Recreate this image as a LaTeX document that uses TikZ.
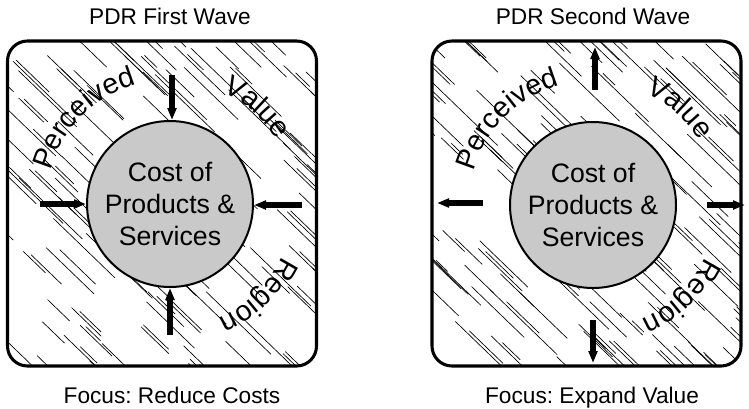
\documentclass[tikz,border=0pt]{standalone}
\usepackage{fontspec}
\setmainfont{Liberation Sans}
\usetikzlibrary{arrows.meta,decorations.text}
\frenchspacing
\definecolor{corefill}{gray}{0.79}
\tikzset{
  frame/.style={line width=2.3pt, rounded corners=15pt},
  core/.style={circle, draw, line width=1.5pt, fill=corefill, minimum size=124.5pt,
    inner sep=0pt, align=center, font=\fontsize{20}{24}\selectfont},
  caption/.style={anchor=base, font=\fontsize{17}{20}\selectfont},
  fat/.style={line width=5.2pt, -{Triangle[length=9pt,width=6.5pt]}},
  hatch/.style={line width=0.5pt},
  arclabel/.style={decorate,decoration={text along path,text align=center,
    text={|\fontsize{21.5}{24}\selectfont|#1}}},
}
\newcommand\mkhatch[2]{%
  \begin{scope}
    \clip[rounded corners=15pt] (#1,#2) rectangle ++(309,-325);
    \foreach \k in {1,...,135}{
      \pgfmathsetmacro\hx{#1-80+rnd*389}
      \pgfmathsetmacro\hy{#2+60-rnd*385}
      \pgfmathsetmacro\hl{30+rnd*65}
      \draw[hatch] (\hx,\hy) -- ++(-44:\hl);
      \pgfmathtruncatemacro\hp{rnd<0.35 ? 1 : 0}
      \pgfmathsetmacro\ho{rnd*20}
      \pgfmathsetmacro\hm{15+rnd*35}
      \ifnum\hp=1
        \draw[hatch] (\hx,\hy) ++(46:3) ++(-44:\ho) -- ++(-44:\hm);
      \fi
    }
  \end{scope}}
\begin{document}
\begin{tikzpicture}[x=0.75pt,y=0.75pt]
\useasboundingbox (0,0) rectangle (749,-408);

% ---------- left panel ----------
\pgfmathsetseed{11}
\mkhatch{7.5}{-41}
\draw[frame] (7.5,-41) rectangle (316.5,-366);
\node[core] (c1) at (170,-204) {Cost of\\Products \&\\Services};

\path[arclabel=Perceived] (c1.center) ++(180:124) arc[start angle=180,end angle=90,radius=93pt];
\path[arclabel=Value] (c1.center) ++(80:124) arc[start angle=80,end angle=16,radius=93pt];
\path[arclabel=Region] (c1.center) ++(-5:124) arc[start angle=-5,end angle=-87,radius=93pt];

\coordinate (a1n) at (172,-75);
\coordinate (a1s) at (170,-335);
\coordinate (a1w) at (40,-204);
\coordinate (a1e) at (302,-205);
\draw[fat] (a1n) -- (a1n |- c1.north);
\draw[fat] (a1s) -- (a1s |- c1.south);
\draw[fat] (a1w) -- (a1w -| c1.west);
\draw[fat] (a1e) -- (a1e -| c1.east);

\node[caption] (t1) at (170,-24) {PDR First Wave};
\node[caption] (f1) at (172,-403) {Focus: Reduce Costs};

% ---------- right panel ----------
\pgfmathsetseed{29}
\mkhatch{432}{-41}
\draw[frame] (432,-41) rectangle (741,-366);
\node[core] (c2) at (593,-205) {Cost of\\Products \&\\Services};

\path[arclabel=Perceived] (c2.center) ++(180:124) arc[start angle=180,end angle=90,radius=93pt];
\path[arclabel=Value] (c2.center) ++(80:124) arc[start angle=80,end angle=16,radius=93pt];
\path[arclabel=Region] (c2.center) ++(-5:124) arc[start angle=-5,end angle=-87,radius=93pt];

\coordinate (b2n0) at (595,-90);  \coordinate (b2n1) at (595,-47);
\coordinate (b2s0) at (593,-320); \coordinate (b2s1) at (593,-363);
\coordinate (b2w0) at (483,-203); \coordinate (b2w1) at (437,-203);
\coordinate (b2e0) at (707,-205); \coordinate (b2e1) at (745,-205);
\draw[fat] (b2n0) -- (b2n1);
\draw[fat] (b2s0) -- (b2s1);
\draw[fat] (b2w0) -- (b2w1);
\draw[fat] (b2e0) -- (b2e1);

\node[caption] (t2) at (593,-24) {PDR Second Wave};
\node[caption] (f2) at (592,-403) {Focus: Expand Value};
\end{tikzpicture}
\end{document}
